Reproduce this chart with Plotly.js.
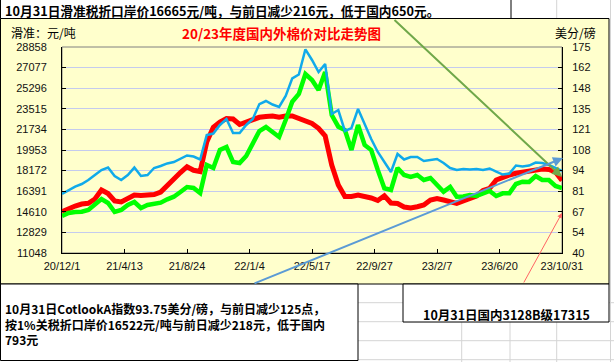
<!DOCTYPE html>
<html><head><meta charset="utf-8">
<script src="https://cdn.plot.ly/plotly-3.0.1.min.js"></script>
<style>html,body{margin:0;padding:0;background:#fff;overflow:hidden}#chart{width:614px;height:362px}</style>
</head><body><div id="chart"></div>
<script>
const startDate = '2020-12-01';
const stepDays = 14;
// 国内3128B (元/吨, left axis)
const domestic3128B = [14619,14913,15111,15284,15345,15717,16495,16192,15544,15457,
  15803,16062,16019,16062,16106,16322,16927,17532,18008,18509,
  18198,18094,20645,21916,22374,22676,22633,22158,22374,22633,
  22780,22849,22892,22780,22892,22892,22676,22434,22244,21829,
  21163,18656,16927,15933,15933,16062,15976,15803,15587,15993,
  15371,15328,15025,14939,15051,15198,15630,15760,15630,15500,
  15345,15544,15717,15976,16452,16642,17359,17619,17792,17939,
  18051,18137,18224,18310,18267,18051,17315];
// 滑准税折口岸价 (元/吨, left axis)
const slidingTariffPrice = [14247,14506,14593,14619,14766,15198,15717,15371,14593,14766,
  15198,15457,14939,15198,15345,15397,15691,15915,16322,16754,
  16668,16235,18656,18397,19953,20212,18915,18829,19434,20472,
  21596,21941,21535,21077,22547,24129,24795,26524,26005,25140,
  26697,22979,21967,21682,19953,22114,20385,19953,18224,16642,
  16495,18397,17792,17619,17792,17359,17532,16927,16348,16754,
  15915,15933,16062,15976,16149,16408,15976,16209,16209,17013,
  17212,17186,17705,17359,17359,16841,16665];
// Cotlook A (美分/磅, right axis)
const cotlookA = [78.7,81.3,83.5,85.2,87.8,91.1,94.4,96.0,90.5,87.8,
  91.1,96.0,90.5,91.1,95.7,97.0,98.7,99.6,101.9,103.9,
  103.2,101.3,117.3,118.3,123.9,127.8,118.6,118.6,123.9,127.8,
  137.6,139.6,137.3,135.7,142.9,154.4,157.0,173.5,166.5,158.6,
  163.9,131.1,133.7,120.0,121.9,134.4,124.5,114.7,106.2,99.6,
  93.1,104.9,101.3,102.9,102.9,100.3,101.0,101.6,99.0,95.7,
  94.4,95.1,94.7,95.1,94.4,95.4,93.3,91.4,92.1,97.3,
  96.7,97.3,99.3,99.0,97.7,95.7,93.75];
const xTickDates = ['2020-12-01','2021-04-13','2021-08-24','2022-01-04','2022-05-17','2022-09-27','2023-02-07','2023-06-20','2023-10-31'];
const xTickLabels = ['20/12/1','21/4/13','21/8/24','22/1/4','22/5/17','22/9/27','23/2/7','23/6/20','23/10/31'];
const leftTickVals = [11048,12829,14610,16391,18172,19953,21734,23515,25296,27077,28858];
const rightTickVals = [40,53.5,67,80.5,94,107.5,121,134.5,148,161.5,175];
const rightTickLabels = ['40','54','67','81','94','108','121','135','148','162','175'];

const dates = domestic3128B.map((_, k) => {
  const d = new Date(Date.parse(startDate + 'T00:00:00Z') + k * stepDays * 86400000);
  return d.toISOString().slice(0, 10);
});

// ---- layout helpers (pixel -> paper) ----
const L = 62, R = 562, T = 47, B = 253;
const px = x => (x - L) / (R - L);
const py = y => (B - y) / (B - T);
const CJK = 'Noto Sans CJK SC';
const tickFont = {family: 'Liberation Sans', size: 11, color: '#111'};

const shapes = [];
const grayCell = {color: '#d4d4d4', width: 1};
[302.7, 321.7, 340.7, 359.7].forEach(y => shapes.push({type:'line', xref:'paper', yref:'paper', layer:'below', x0:px(0), x1:px(614), y0:py(y), y1:py(y), line:grayCell}));
[461.7, 510, 556.7, 610.5].forEach(x => shapes.push({type:'line', xref:'paper', yref:'paper', layer:'below', x0:px(x), x1:px(x), y0:py(0), y1:py(362), line:grayCell}));
function box(x0, y0, x1, y1, fill) {
  shapes.push({type:'rect', xref:'paper', yref:'paper', layer:'below', x0:px(x0), x1:px(x1), y0:py(y1), y1:py(y0), fillcolor:fill, line:{color:'#000', width:1}});
}
box(0.5, -1, 511, 18.5, '#ffffff');
box(0.5, 18.5, 609, 284, '#ffffcc');
box(0.5, 284, 358, 360.5, '#ffffff');
box(403, 284, 609, 322, '#ffffff');
shapes.push({type:'rect', xref:'paper', yref:'paper', layer:'below', x0:0, x1:1, y0:0, y1:1, line:{color:'#808080', width:1}});

function txt(text, x, y, xanchor, size, color, bold) {
  return {xref:'paper', yref:'paper', x:px(x), y:py(y), xanchor:xanchor, yanchor:'middle', align:'left', showarrow:false,
    text: bold ? '<b>' + text + '</b>' : text, font:{family:CJK, size:size, color:color}};
}
function arrow(hx, hy, tx, ty, color, width) {
  return {xref:'paper', yref:'paper', x:px(hx), y:py(hy), ax:tx - hx, ay:ty - hy, text:'', showarrow:true,
    arrowhead:2, arrowsize:1, arrowwidth:width, arrowcolor:color, standoff:0, startstandoff:0};
}
const annotations = [
  txt('10月31日滑准税折口岸价16665元/吨，与前日减少216元，低于国内650元。', 3, 10, 'left', 12.7, '#000', true),
  txt('20/23年度国内外棉价对比走势图', 281, 33, 'center', 13.5, '#ff0000', true),
  txt('滑准：元/吨', 9, 32, 'left', 12, '#000', false),
  txt('美分/磅', 598, 32, 'right', 12, '#000', false),
  txt('10月31日CotlookA指数93.75美分/磅，与前日减少125点，<br>按1%关税折口岸价16522元/吨与前日减少218元，低于国内<br>793元', 3, 323.5, 'left', 12, '#000', true),
  txt('10月31日国内3128B级17315', 506, 314, 'center', 12.5, '#000', true),
  arrow(562, 177, 393, 18.5, '#70a84a', 2),
  arrow(563, 158, 253, 284, '#5b9bd5', 2),
  arrow(562, 213, 523, 284, '#ff6464', 1)
];

const traces = [
  {x: dates, y: domestic3128B, type:'scatter', mode:'lines', name:'国内3128B', line:{color:'#ff0000', width:5}, yaxis:'y'},
  {x: dates, y: slidingTariffPrice, type:'scatter', mode:'lines', name:'滑准税折口岸价', line:{color:'#00ff00', width:4.5}, yaxis:'y'},
  {x: dates, y: cotlookA, type:'scatter', mode:'lines', name:'CotlookA', line:{color:'#10aaea', width:2.5}, yaxis:'y2'}
];

const layout = {
  width: 614, height: 362,
  margin: {l: L, r: 614 - R, t: T, b: 362 - B, pad: 0},
  paper_bgcolor: '#ffffff', plot_bgcolor: '#ffffcc',
  showlegend: false, hovermode: false,
  font: {family: CJK},
  xaxis: {type:'date', range:[startDate, '2023-10-31'], tickmode:'array', tickvals:xTickDates, ticktext:xTickLabels,
    ticks:'inside', ticklen:4, tickcolor:'#000', showline:true, linecolor:'#000', linewidth:1,
    showgrid:false, zeroline:false, tickfont:tickFont, ticklabelstandoff:3, fixedrange:true},
  yaxis: {range:[11048, 28858], tickmode:'array', tickvals:leftTickVals, ticktext:leftTickVals.map(String),
    ticks:'inside', ticklen:4, tickcolor:'#000', showline:true, linecolor:'#000', linewidth:1,
    showgrid:true, gridcolor:'#c4cbee', gridwidth:1, zeroline:false, tickfont:tickFont, ticklabelstandoff:12, fixedrange:true},
  yaxis2: {range:[40, 175], overlaying:'y', side:'right', tickmode:'array', tickvals:rightTickVals, ticktext:rightTickLabels,
    ticks:'inside', ticklen:4, tickcolor:'#000', showline:true, linecolor:'#000', linewidth:1,
    showgrid:false, zeroline:false, tickfont:tickFont, ticklabelstandoff:7, fixedrange:true},
  shapes: shapes,
  annotations: annotations
};
Plotly.newPlot('chart', traces, layout, {staticPlot:true, displayModeBar:false});
</script></body></html>
